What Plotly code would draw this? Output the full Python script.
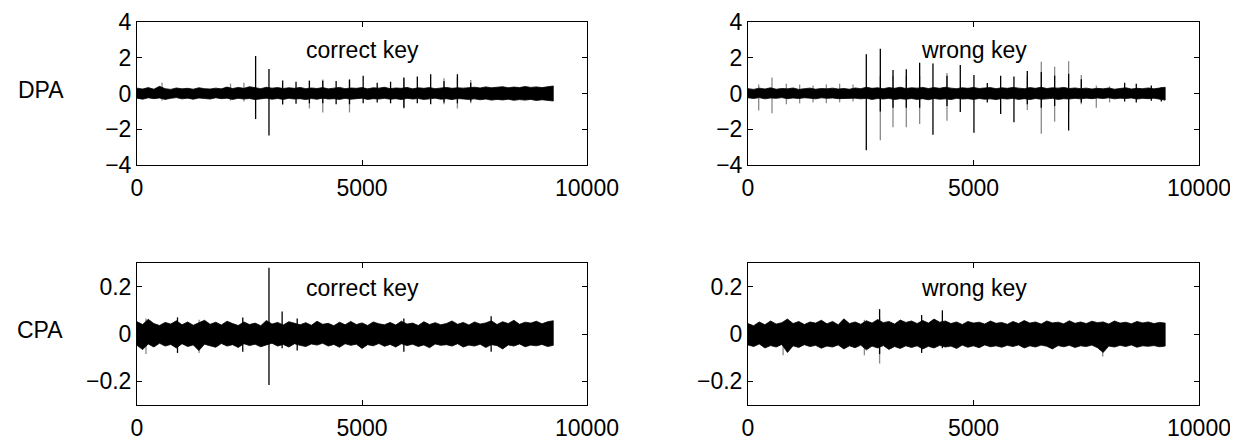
import plotly.graph_objects as go

# ---------------- data ----------------
trace_len = 9250
env_step = 125  # envelope sampled every 125 points

# DPA, correct key: noise envelope (upper / lower)
dpa_c_up = [0.30,0.25,0.33,0.24,0.40,0.27,0.23,0.31,0.26,0.29,0.24,0.32,0.27,0.25,0.30,
            0.26,0.36,0.28,0.34,0.29,0.38,0.32,0.27,0.35,0.30,0.33,0.28,0.32,0.29,0.34,
            0.27,0.31,0.28,0.33,0.26,0.30,0.34,0.27,0.31,0.29,0.33,0.26,0.32,0.30,0.35,
            0.27,0.31,0.29,0.34,0.26,0.32,0.29,0.33,0.27,0.31,0.34,0.29,0.32,0.30,0.33,
            0.35,0.31,0.37,0.32,0.34,0.38,0.32,0.36,0.33,0.39,0.34,0.37,0.33,0.38,0.42]
dpa_c_lo = [-0.26,-0.32,-0.24,-0.29,-0.25,-0.33,-0.27,-0.23,-0.30,-0.26,-0.32,-0.25,-0.28,-0.31,-0.24,
            -0.29,-0.26,-0.33,-0.27,-0.31,-0.28,-0.34,-0.29,-0.26,-0.32,-0.28,-0.33,-0.27,-0.31,-0.29,
            -0.34,-0.28,-0.32,-0.26,-0.31,-0.29,-0.33,-0.27,-0.32,-0.30,-0.26,-0.33,-0.29,-0.31,-0.27,
            -0.32,-0.29,-0.34,-0.27,-0.31,-0.28,-0.33,-0.30,-0.26,-0.32,-0.29,-0.34,-0.28,-0.31,-0.33,
            -0.30,-0.35,-0.31,-0.37,-0.33,-0.36,-0.32,-0.38,-0.34,-0.37,-0.33,-0.39,-0.35,-0.38,-0.42]
dpa_c_blk_x = [2636,2933,3237,3534,3831,4128,4425,4722,5026,5338,5635,5931,6229,6526,6822,7120,7416]
dpa_c_blk_hi = [2.1,1.37,0.73,0.66,0.70,0.72,0.70,0.78,1.0,0.6,0.66,0.9,0.95,1.08,0.68,1.08,0.6]
dpa_c_blk_lo = [-1.43,-2.35,-0.62,-0.58,-0.55,-0.55,-0.6,-0.6,-0.55,-0.5,-0.55,-0.8,-0.55,-0.6,-0.5,-0.55,-0.45]
dpa_c_gry_x = [556,2078,2376,3831,4128,4722,5931,6822,7120,7416]
dpa_c_gry_hi = [0.6,0.55,0.6,0.75,0.78,0.78,0.85,0.85,0.9,0.75]
dpa_c_gry_lo = [-0.4,-0.4,-0.45,-0.84,-1.06,-1.06,-0.84,-0.6,-0.84,-0.55]

# DPA, wrong key
dpa_w_up = [0.27,0.23,0.30,0.25,0.32,0.24,0.28,0.26,0.31,0.23,0.27,0.30,0.24,0.28,0.26,
            0.30,0.25,0.28,0.24,0.31,0.27,0.35,0.29,0.32,0.27,0.33,0.29,0.35,0.28,0.32,
            0.30,0.34,0.28,0.33,0.29,0.35,0.30,0.27,0.32,0.29,0.34,0.28,0.31,0.33,0.27,
            0.32,0.29,0.34,0.30,0.27,0.33,0.29,0.35,0.28,0.32,0.30,0.34,0.28,0.31,0.27,
            0.30,0.25,0.29,0.26,0.31,0.24,0.28,0.32,0.25,0.29,0.27,0.31,0.26,0.30,0.35]
dpa_w_lo = [-0.24,-0.28,-0.23,-0.30,-0.25,-0.27,-0.23,-0.29,-0.25,-0.28,-0.24,-0.26,-0.30,-0.24,-0.27,
            -0.25,-0.29,-0.24,-0.27,-0.26,-0.30,-0.27,-0.33,-0.28,-0.31,-0.27,-0.34,-0.29,-0.32,-0.28,
            -0.33,-0.29,-0.35,-0.28,-0.32,-0.30,-0.34,-0.27,-0.31,-0.29,-0.33,-0.28,-0.32,-0.30,-0.34,
            -0.28,-0.31,-0.27,-0.33,-0.29,-0.34,-0.28,-0.32,-0.30,-0.27,-0.33,-0.29,-0.31,-0.27,-0.30,
            -0.26,-0.29,-0.25,-0.28,-0.24,-0.30,-0.26,-0.28,-0.25,-0.31,-0.27,-0.29,-0.26,-0.32,-0.37]
dpa_w_blk_x = [2623,2934,3215,3510,3806,4101,4412,4707,5010,5306,5602,5897,6193,6503,6799,7109,7390,
               8351,8609,8942,9164]
dpa_w_blk_hi = [2.2,2.51,1.32,1.36,1.72,1.68,1.0,1.59,1.04,0.59,0.99,0.95,1.26,1.2,1.0,1.1,0.8,
                0.6,0.55,0.45,0.35]
dpa_w_blk_lo = [-3.17,-1.0,-0.8,-0.8,-0.8,-2.31,-0.7,-1.03,-2.2,-0.5,-1.15,-1.61,-0.6,-0.8,-0.7,-2.07,-0.5,
                -0.45,-0.5,-0.4,-0.45]
dpa_w_gry_x = [237,532,850,1145,1441,1737,2032,2328,2934,3215,3510,3806,4412,6193,6503,6799,7109,7390,7723,8018]
dpa_w_gry_hi = [0.5,0.9,0.55,0.5,0.45,0.5,0.55,0.5,1.0,1.0,1.0,1.0,1.14,1.0,1.78,1.5,1.81,1.04,0.45,0.4]
dpa_w_gry_lo = [-0.95,-1.1,-0.6,-0.55,-0.5,-0.55,-0.5,-0.45,-2.62,-1.89,-1.89,-1.70,-1.52,-0.92,-2.25,-1.58,-1.0,-0.6,-0.8,-0.5]

# CPA, correct key
cpa_c_up = [0.052,0.040,0.062,0.044,0.036,0.049,0.042,0.056,0.039,0.051,0.037,0.047,0.058,0.041,0.050,
            0.038,0.054,0.044,0.036,0.051,0.040,0.046,0.035,0.057,0.042,0.049,0.038,0.052,0.044,0.039,
            0.048,0.037,0.054,0.041,0.045,0.035,0.050,0.039,0.053,0.040,0.047,0.036,0.051,0.043,0.039,
            0.049,0.038,0.054,0.042,0.046,0.036,0.052,0.040,0.048,0.039,0.044,0.055,0.041,0.049,0.038,
            0.051,0.042,0.047,0.056,0.040,0.052,0.044,0.058,0.041,0.050,0.046,0.054,0.043,0.052,0.056]
cpa_c_lo = [-0.048,-0.066,-0.042,-0.055,-0.039,-0.051,-0.044,-0.059,-0.041,-0.053,-0.046,-0.070,-0.043,-0.050,-0.056,
            -0.040,-0.051,-0.045,-0.057,-0.041,-0.049,-0.043,-0.054,-0.046,-0.039,-0.051,-0.044,-0.055,-0.041,-0.048,
            -0.053,-0.042,-0.047,-0.039,-0.051,-0.044,-0.056,-0.041,-0.048,-0.043,-0.061,-0.045,-0.050,-0.040,-0.052,
            -0.044,-0.055,-0.041,-0.049,-0.043,-0.053,-0.046,-0.058,-0.042,-0.048,-0.045,-0.051,-0.041,-0.055,-0.047,
            -0.051,-0.043,-0.057,-0.045,-0.049,-0.063,-0.046,-0.051,-0.042,-0.054,-0.047,-0.050,-0.044,-0.053,-0.048]
cpa_c_blk_x = [900,2350,2933,3225,3560,5930,7870]
cpa_c_blk_hi = [0.07,0.07,0.28,0.095,0.065,0.065,0.075]
cpa_c_blk_lo = [-0.08,-0.075,-0.215,-0.06,-0.07,-0.075,-0.075]
cpa_c_gry_x = [200,1380]
cpa_c_gry_hi = [0.065,0.06]
cpa_c_gry_lo = [-0.085,-0.08]

# CPA, wrong key
cpa_w_up = [0.044,0.035,0.051,0.039,0.055,0.042,0.048,0.063,0.044,0.053,0.040,0.051,0.046,0.058,0.043,
            0.053,0.039,0.064,0.044,0.051,0.041,0.056,0.046,0.061,0.048,0.053,0.042,0.059,0.049,0.055,
            0.044,0.057,0.046,0.063,0.050,0.055,0.044,0.051,0.040,0.053,0.046,0.050,0.042,0.055,0.045,
            0.049,0.041,0.053,0.044,0.057,0.046,0.051,0.042,0.055,0.047,0.050,0.043,0.056,0.045,0.051,
            0.044,0.054,0.048,0.051,0.042,0.055,0.046,0.050,0.043,0.053,0.047,0.051,0.044,0.049,0.046]
cpa_w_lo = [-0.046,-0.053,-0.042,-0.059,-0.049,-0.055,-0.044,-0.078,-0.050,-0.057,-0.045,-0.053,-0.048,-0.060,-0.051,
            -0.055,-0.046,-0.063,-0.050,-0.058,-0.047,-0.067,-0.051,-0.059,-0.049,-0.065,-0.053,-0.061,-0.050,-0.057,
            -0.050,-0.063,-0.052,-0.059,-0.048,-0.055,-0.051,-0.061,-0.047,-0.056,-0.050,-0.058,-0.046,-0.054,-0.050,
            -0.056,-0.048,-0.053,-0.046,-0.059,-0.050,-0.055,-0.047,-0.052,-0.063,-0.049,-0.054,-0.048,-0.057,-0.050,
            -0.053,-0.047,-0.058,-0.078,-0.051,-0.055,-0.048,-0.053,-0.046,-0.056,-0.050,-0.052,-0.049,-0.054,-0.051]
cpa_w_blk_x = [2918,4310,3850]
cpa_w_blk_hi = [0.105,0.1,0.08]
cpa_w_blk_lo = [-0.085,-0.06,-0.08]
cpa_w_gry_x = [2918,778,7865,2580]
cpa_w_gry_hi = [0.07,0.05,0.05,0.06]
cpa_w_gry_lo = [-0.125,-0.09,-0.095,-0.09]

x_ticks = [0, 5000, 10000]
x_ticktext = ["0", "5000", "10000"]
dpa_ticks = [-4, -2, 0, 2, 4]
dpa_ticktext = ["\u22124", "\u22122", "0", "2", "4"]
cpa_ticks = [-0.2, 0, 0.2]
cpa_ticktext = ["\u22120.2", "0", "0.2"]
panel_titles = ["correct key", "wrong key", "correct key", "wrong key"]
row_labels = ["DPA", "CPA"]

# ---------------- figure ----------------
PAGE_W, PAGE_H = 1238, 445
OFF = 8  # default body margin of the html page
W, H = PAGE_W - OFF, PAGE_H - OFF
FONT = "Liberation Sans, Arial, sans-serif"
FS = 23
env_x = list(range(0, trace_len + 1, env_step))

fig = go.Figure()

panels = [
    (dpa_c_up, dpa_c_lo, dpa_c_blk_x, dpa_c_blk_hi, dpa_c_blk_lo, dpa_c_gry_x, dpa_c_gry_hi, dpa_c_gry_lo),
    (dpa_w_up, dpa_w_lo, dpa_w_blk_x, dpa_w_blk_hi, dpa_w_blk_lo, dpa_w_gry_x, dpa_w_gry_hi, dpa_w_gry_lo),
    (cpa_c_up, cpa_c_lo, cpa_c_blk_x, cpa_c_blk_hi, cpa_c_blk_lo, cpa_c_gry_x, cpa_c_gry_hi, cpa_c_gry_lo),
    (cpa_w_up, cpa_w_lo, cpa_w_blk_x, cpa_w_blk_hi, cpa_w_blk_lo, cpa_w_gry_x, cpa_w_gry_hi, cpa_w_gry_lo),
]


def spike_xy(xs, his, los):
    px, py = [], []
    for x, h, l in zip(xs, his, los):
        px += [x, x, None]
        py += [l, h, None]
    return px, py


for i, (up, lo, bx, bh, bl, gx, gh, gl) in enumerate(panels):
    ax = "" if i == 0 else str(i + 1)
    xa, ya = "x" + ax, "y" + ax
    sx, sy = spike_xy(gx, gh, gl)
    fig.add_trace(go.Scatter(x=sx, y=sy, mode="lines", xaxis=xa, yaxis=ya,
                             line=dict(color="#8a8a8a", width=1.3), hoverinfo="skip"))
    fig.add_trace(go.Scatter(x=env_x + env_x[::-1], y=up + lo[::-1], mode="lines",
                             xaxis=xa, yaxis=ya, fill="toself", fillcolor="black",
                             line=dict(color="black", width=0.8), hoverinfo="skip"))
    sx, sy = spike_xy(bx, bh, bl)
    fig.add_trace(go.Scatter(x=sx, y=sy, mode="lines", xaxis=xa, yaxis=ya,
                             line=dict(color="black", width=1.3), hoverinfo="skip"))


def px_x(p):  # page pixel -> paper x
    return (p - OFF) / W


def px_y(p):  # page pixel -> paper y
    return 1 - (p - OFF) / H


xdoms = [[px_x(137), px_x(587)], [px_x(748), px_x(1199)]] * 2
ydoms = [[px_y(165), px_y(22)]] * 2 + [[px_y(405), px_y(263)]] * 2

axis_common = dict(showline=True, linecolor="black", linewidth=1, mirror="allticks",
                   ticks="inside", ticklen=5, tickcolor="black", showgrid=False,
                   zeroline=False, automargin=False, ticklabeloverflow="allow",
                   tickfont=dict(family=FONT, size=FS, color="black"))

layout = dict(width=W, height=H, margin=dict(l=0, r=0, t=0, b=0),
              paper_bgcolor="white", plot_bgcolor="white", showlegend=False)
for i in range(4):
    ax = "" if i == 0 else str(i + 1)
    layout["xaxis" + ax] = dict(axis_common, domain=xdoms[i], range=[0, 10000],
                                tickvals=x_ticks, ticktext=x_ticktext, anchor="y" + ax,
                                ticklabelstandoff=2)
    if i < 2:
        layout["yaxis" + ax] = dict(axis_common, domain=ydoms[i], range=[-4, 4],
                                    tickvals=dpa_ticks, ticktext=dpa_ticktext, anchor="x" + ax)
    else:
        layout["yaxis" + ax] = dict(axis_common, domain=ydoms[i], range=[-0.3, 0.3],
                                    tickvals=cpa_ticks, ticktext=cpa_ticktext, anchor="x" + ax)
fig.update_layout(**layout)

ann = []
for i, t in enumerate(panel_titles):
    ax = "" if i == 0 else str(i + 1)
    ann.append(dict(text=t, x=5000, y=2.45 if i < 2 else 0.193, xref="x" + ax, yref="y" + ax,
                    xanchor="center", yanchor="middle",
                    showarrow=False, font=dict(family=FONT, size=FS, color="black")))
ann.append(dict(text=row_labels[0], x=px_x(41), y=px_y(90), xref="paper", yref="paper",
                xanchor="center", yanchor="middle",
                showarrow=False, font=dict(family=FONT, size=FS, color="black")))
ann.append(dict(text=row_labels[1], x=px_x(40), y=px_y(330), xref="paper", yref="paper",
                xanchor="center", yanchor="middle",
                showarrow=False, font=dict(family=FONT, size=FS, color="black")))
fig.update_layout(annotations=ann)

fig.write_html("out.html")
